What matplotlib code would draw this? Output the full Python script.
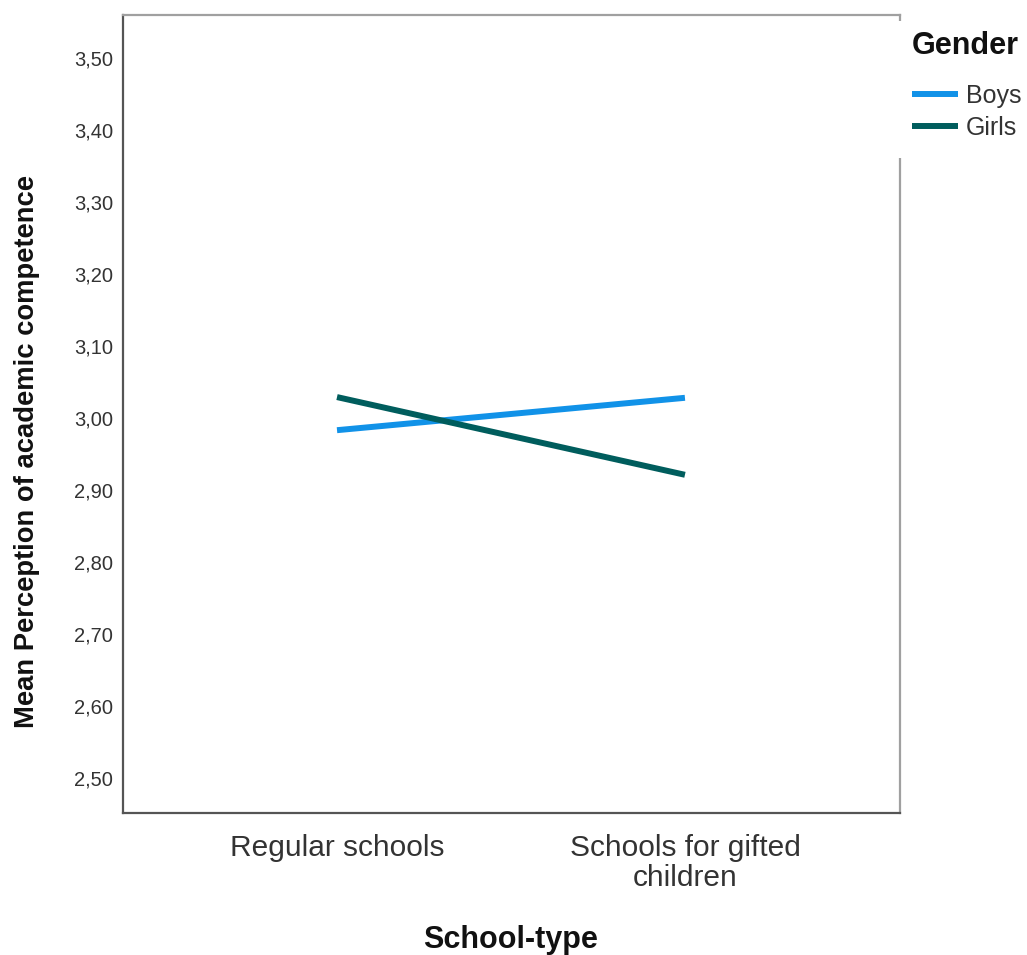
import matplotlib.pyplot as plt
from matplotlib.patches import Rectangle

plt.rcParams['font.family'] = ['Liberation Sans', 'DejaVu Sans']

# data
school_types = ['Regular schools', 'Schools for gifted\nchildren']
boys = [2.983, 3.028]
girls = [3.029, 2.921]
y_ticks = [2.5, 2.6, 2.7, 2.8, 2.9, 3.0, 3.1, 3.2, 3.3, 3.4, 3.5]

fig = plt.figure(figsize=(10.27, 9.55), dpi=100)
ax = fig.add_axes([0.1198, 0.1487, 0.7565, 0.8356])

x = range(len(school_types))
ax.plot(x, boys, color='#1192e8', lw=4.3, label='Boys', solid_capstyle='butt')
ax.plot(x, girls, color='#005d5d', lw=4.3, label='Girls', solid_capstyle='butt')

ax.set_xlim(-0.615, 1.618)
ax.set_ylim(2.451, 3.56)
ax.set_yticks(y_ticks)
ax.set_yticklabels([f'{v:.2f}'.replace('.', ',') for v in y_ticks])
ax.set_xticks(list(x))
ax.set_xticklabels(school_types, fontsize=21.5, color='#333333', linespacing=1.12)
ax.tick_params(axis='y', length=0, pad=7, labelsize=14.5, labelcolor='#333333')
ax.tick_params(axis='x', length=0, pad=15)

for s in ['left', 'bottom']:
    ax.spines[s].set_color('#555555')
    ax.spines[s].set_linewidth(1.6)
for s in ['top', 'right']:
    ax.spines[s].set_color('#a0a0a0')
    ax.spines[s].set_linewidth(1.6)

ylab = ax.set_ylabel('Mean Perception of academic competence', fontsize=19.7,
                     fontweight='bold', color='#111111')
ylab.set_va('center')
ax.yaxis.set_label_coords(-0.124, (813 - 451.5) / 798)
xlab = ax.set_xlabel('School-type', fontsize=22, fontweight='bold', color='#111111')
xlab.set_va('center')
ax.xaxis.set_label_coords((511 - 123) / 777, -(940 - 813) / 798)

# legend box covers the upper part of the right border
fig.patches.append(Rectangle((893 / 1027, (955 - 158) / 955), 20 / 1027, 137 / 955,
                             transform=fig.transFigure, facecolor='white',
                             edgecolor='none', zorder=5))

fig.text(912 / 1027, (955 - 46) / 955, 'Gender', fontsize=22, fontweight='bold',
         color='#111111', ha='left', va='center', zorder=6)
leg = fig.legend(loc='upper left', bbox_to_anchor=(0.878, (955 - 74) / 955), frameon=False,
                 fontsize=18, handlelength=1.85, handletextpad=0.32,
                 labelspacing=0.33, borderaxespad=0)
for t in leg.get_texts():
    t.set_color('#333333')
leg.set_zorder(6)

fig.savefig('out.png', dpi=100)
